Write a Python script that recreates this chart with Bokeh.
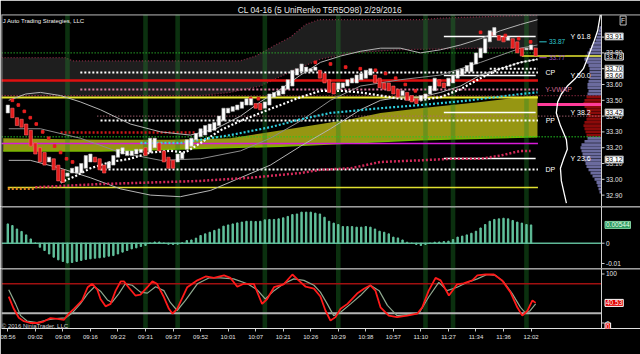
from bokeh.plotting import figure
from bokeh.models import Range1d, FixedTicker, Label, Span
from bokeh.layouts import column
from bokeh.embed import file_html
from bokeh.resources import INLINE
from bokeh.core.properties import value

FONT = "Liberation Sans"

# ---------------- data ----------------
title_text = "CL 04-16 (5 UniRenko T5R5O98)  2/29/2016"
time_labels = ["08:56", "09:02", "09:08", "09:16", "09:22", "09:31", "09:37", "09:52", "10:01", "10:07",
               "10:21", "10:26", "10:29", "10:38", "10:57", "11:10", "11:27", "11:34", "11:36", "12:02"]
time_label_bars = [0, 6, 12, 18, 24, 30, 36, 42, 48, 54, 60, 66, 72, 78, 84, 90, 96, 102, 108, 114]

opens = [33.42, 33.45, 33.39, 33.38, 33.35, 33.31, 33.23, 33.20, 33.17, 33.11,
         33.13, 33.09, 33.06, 33.02, 33.04, 33.04, 33.04, 33.07, 33.11, 33.14,
         33.13, 33.09, 33.07, 33.09, 33.14, 33.16, 33.15, 33.15, 33.16, 33.17,
         33.20, 33.17, 33.20, 33.23, 33.18, 33.14, 33.12, 33.11, 33.13, 33.19,
         33.21, 33.25, 33.27, 33.28, 33.30, 33.31, 33.34, 33.37, 33.42, 33.43,
         33.44, 33.45, 33.47, 33.47, 33.48, 33.48, 33.45, 33.47, 33.52, 33.53,
         33.54, 33.57, 33.59, 33.66, 33.68, 33.68, 33.68, 33.69, 33.69, 33.67,
         33.63, 33.61, 33.57, 33.58, 33.59, 33.61, 33.61, 33.63, 33.64, 33.66,
         33.66, 33.64, 33.61, 33.61, 33.59, 33.57, 33.53, 33.55, 33.53, 33.51,
         33.50, 33.51, 33.54, 33.56, 33.63, 33.61, 33.59, 33.61, 33.64, 33.66,
         33.68, 33.68, 33.73, 33.77, 33.80, 33.87, 33.91, 33.91, 33.90, 33.88,
         33.89, 33.87, 33.83, 33.82, 33.82, 33.83]
closes = [33.47, 33.39, 33.34, 33.33, 33.28, 33.21, 33.16, 33.11, 33.09, 33.14,
          33.06, 32.99, 32.98, 33.04, 33.07, 33.08, 33.10, 33.15, 33.16, 33.11,
          33.06, 33.04, 33.11, 33.15, 33.19, 33.20, 33.18, 33.18, 33.19, 33.19,
          33.15, 33.26, 33.26, 33.18, 33.11, 33.07, 33.07, 33.16, 33.17, 33.25,
          33.26, 33.29, 33.32, 33.34, 33.35, 33.36, 33.40, 33.45, 33.45, 33.46,
          33.47, 33.49, 33.51, 33.51, 33.45, 33.44, 33.49, 33.54, 33.55, 33.56,
          33.59, 33.63, 33.69, 33.70, 33.73, 33.71, 33.70, 33.71, 33.64, 33.61,
          33.55, 33.54, 33.61, 33.61, 33.63, 33.64, 33.66, 33.67, 33.69, 33.70,
          33.61, 33.58, 33.57, 33.56, 33.54, 33.52, 33.56, 33.50, 33.49, 33.48,
          33.53, 33.54, 33.59, 33.64, 33.59, 33.58, 33.64, 33.66, 33.69, 33.70,
          33.72, 33.74, 33.80, 33.83, 33.89, 33.94, 33.96, 33.88, 33.87, 33.90,
          33.83, 33.80, 33.78, 33.83, 33.85, 33.78]

hist = [0.0095, 0.0087, 0.0070, 0.0058, 0.0041, 0.0021, 0.0001, -0.0020, -0.0036, -0.0053,
        -0.0069, -0.0082, -0.0090, -0.0097, -0.0095, -0.0090, -0.0085, -0.0080, -0.0077, -0.0074,
        -0.0072, -0.0069, -0.0064, -0.0061, -0.0053, -0.0044, -0.0036, -0.0028, -0.0023, -0.0016,
        -0.0011, 0.0001, 0.0006, 0.0006, 0.0001, -0.0005, -0.0006, -0.0005, 0.0002, 0.0013,
        0.0016, 0.0025, 0.0038, 0.0046, 0.0054, 0.0063, 0.0070, 0.0084, 0.0090, 0.0095,
        0.0100, 0.0104, 0.0108, 0.0108, 0.0107, 0.0108, 0.0115, 0.0117, 0.0117, 0.0120,
        0.0125, 0.0132, 0.0141, 0.0144, 0.0153, 0.0153, 0.0153, 0.0148, 0.0144, 0.0128,
        0.0108, 0.0099, 0.0092, 0.0082, 0.0082, 0.0082, 0.0079, 0.0079, 0.0082, 0.0079,
        0.0070, 0.0059, 0.0054, 0.0046, 0.0030, 0.0026, 0.0016, 0.0005, 0.0000, -0.0006,
        -0.0011, -0.0006, 0.0000, 0.0005, 0.0006, 0.0008, 0.0010, 0.0018, 0.0030, 0.0035,
        0.0041, 0.0049, 0.0059, 0.0075, 0.0092, 0.0108, 0.0117, 0.0120, 0.0123, 0.0120,
        0.0112, 0.0104, 0.0099, 0.0092, 0.0090]
hist_last_text = "0.00544"
hist_ticks = [0, -0.01]
hist_tick_labels = ["0", "-0.01"]

stoch_k_x = [0.2, 1.3, 2.4, 3.5, 4.9, 6.4, 7.8, 9.3, 10.8, 12.2, 13.3, 14.4, 16.2, 17.4, 18.4,
             19.5, 20.2, 21.3, 22.4, 23.5, 24.6, 25.3, 26.4, 27.8, 28.9, 30.4, 31.5, 32.5, 34.0, 35.1,
             35.9, 36.9, 39.1, 41.3, 43.1, 44.9, 47.1, 48.5, 50.0, 51.4, 53.6, 55.4, 56.5, 58.0, 60.1,
             62.0, 63.0, 64.9, 66.7, 68.1, 69.2, 70.3, 71.4, 72.5, 74.0, 76.1, 77.6, 79.0, 80.1, 81.2,
             83.0, 84.8, 87.0, 89.2, 90.3, 91.7, 93.2, 94.3, 96.1, 97.9, 99.3, 101.2, 102.3, 104.1, 105.9,
             107.7, 109.5, 111.0, 112.1, 113.2, 114.3, 115.0]
stoch_k = [54, 29, 10.6, 3.7, 0, 0, 3, 10, 8.5, 6.5, 19, 29, 46, 73, 80,
           68, 49, 34, 39, 66, 85, 85, 72, 56, 58, 73, 85, 80, 53, 29,
           19, 29, 73, 87, 95, 92, 97, 92, 74, 80, 80, 39, 49, 73, 79,
           99, 90, 74, 70, 54, 25.5, 5, 12, 29, 39, 60, 70, 77, 66, 32,
           15, 12, 15, 19, 32, 66, 92, 87, 56, 79, 81, 87, 97, 99, 99,
           87, 63, 32, 15, 25, 46, 41]
stoch_d_x = [0.2, 1.7, 2.8, 4.2, 6.4, 8.6, 10.4, 12.6, 14.0, 15.8, 17.4, 18.9, 20.2, 21.7, 22.7,
             24.2, 25.6, 27.1, 28.9, 30.4, 32.2, 34.0, 35.4, 36.9, 38.7, 41.3, 43.8, 46.3, 49.2, 52.2,
             54.3, 56.1, 58.0, 60.1, 62.3, 64.5, 66.7, 68.1, 69.6, 71.0, 72.5, 74.7, 76.8, 79.0, 80.9,
             82.7, 84.8, 87.4, 89.6, 91.7, 93.9, 95.7, 97.9, 100.1, 102.3, 104.4, 106.3, 108.1, 109.9, 111.7,
             112.8, 113.8, 115.0]
stoch_d = [68, 39, 15, 4, 1, 6.5, 9, 10.6, 20, 39, 60, 74, 65, 47, 42,
           60, 80, 77, 63, 61, 74, 66, 42, 25.5, 46, 80, 92, 92, 90, 80,
           68, 49, 66, 80, 90, 87, 77, 63, 39, 15, 22, 39, 56, 77, 66,
           36, 15, 17, 20, 53, 83, 66, 73, 83, 90, 99, 97, 83, 60, 32,
           20, 25, 39]
stoch_last_text = "40.53"
stoch_ticks = [100, 0]
stoch_tick_labels = ["100", "0"]
stoch_levels = [80, 20]

signal_bars = [13, 30, 37, 56, 72, 91, 97, 113]

# channel (grey cloud) boundaries
gb_upper_x = [-2, 12.6, 14.1, 50.7, 54.0, 58.3, 61.6, 64.9, 67.7, 89.9, 94.3, 115.4]
gb_upper = [33.77, 33.77, 33.75, 33.75, 33.78, 33.85, 33.90, 33.98, 34.01, 34.01, 34.02, 34.04]
gb_lower_x = [-2, 42.0, 48.5, 55.0, 61.6, 68.1, 74.7, 85.5, 103.0, 115.4]
gb_lower = [33.53, 33.53, 33.55, 33.59, 33.68, 33.76, 33.80, 33.82, 33.83, 33.83]

# olive cloud
ol_top_x = [-1, 20.2, 35.4, 48.5, 57.2, 63.8, 74.7, 81.2, 89.9, 103.0, 111.7, 115.4]
ol_top = [33.26, 33.25, 33.25, 33.26, 33.30, 33.33, 33.38, 33.42, 33.45, 33.49, 33.52, 33.53]
ol_bot_x = [-1, 20.2, 35.4, 59.4, 74.7, 89.9, 103.0, 115.4]
ol_bot = [33.18, 33.18, 33.19, 33.21, 33.23, 33.25, 33.26, 33.27]

# bands / averages
bbU_x = [0.2, 3.9, 7.1, 11.5, 15.8, 20.2, 26.7, 33.3, 39.8, 45.3, 50.7, 55.0, 59.4, 63.8, 68.1,
         72.5, 76.8, 81.2, 85.5, 89.9, 94.3, 98.6, 103.0, 107.3, 111.7, 115.4]
bbU = [33.50, 33.54, 33.55, 33.53, 33.49, 33.44, 33.35, 33.30, 33.28, 33.32, 33.40, 33.49, 33.57, 33.66, 33.74,
       33.78, 33.81, 33.83, 33.83, 33.80, 33.82, 33.85, 33.89, 33.94, 33.98, 34.01]
bbL_x = [0.2, 4.9, 11.5, 18.0, 24.5, 31.1, 37.6, 44.2, 50.7, 57.2, 63.8, 70.3, 76.8, 81.2, 85.5,
         89.9, 94.3, 98.6, 103.0, 107.3, 111.7, 115.4]
bbL = [33.12, 33.12, 33.07, 33.01, 32.94, 32.90, 32.89, 32.93, 33.01, 33.09, 33.21, 33.32, 33.44, 33.50, 33.52,
       33.52, 33.55, 33.59, 33.66, 33.70, 33.74, 33.76]
bbM_x = [0.2, 7.1, 15.8, 24.5, 33.3, 42.0, 50.7, 57.2, 63.8, 70.3, 76.8, 85.5, 94.3, 103.0, 111.7, 115.4]
bbM = [33.32, 33.32, 33.26, 33.17, 33.12, 33.13, 33.18, 33.26, 33.37, 33.50, 33.59, 33.63, 33.66, 33.74, 33.83, 33.85]
ema_x = [11.5, 14.7, 18.0, 22.4, 26.7, 31.1, 35.4, 38.7, 42.0, 46.3, 50.7, 55.0, 59.4, 63.8, 68.1,
         72.5, 76.8, 81.2, 85.5, 89.9, 94.3, 98.6, 103.0, 107.3, 111.7, 115.4]
ema = [32.98, 33.02, 33.07, 33.11, 33.13, 33.17, 33.18, 33.17, 33.23, 33.31, 33.37, 33.42, 33.47, 33.52, 33.56,
       33.56, 33.55, 33.53, 33.51, 33.50, 33.52, 33.57, 33.64, 33.70, 33.74, 33.76]
cyan_x = [28.9, 37.6, 48.5, 57.2, 63.8, 70.3, 81.2, 89.9, 100.8, 111.7, 115.4]
cyan = [33.23, 33.23, 33.28, 33.33, 33.38, 33.42, 33.45, 33.47, 33.50, 33.54, 33.55]
crim_x = [6.0, 20.2, 31.1, 42.0, 52.9, 63.8, 68.1, 74.7, 81.2, 89.9, 96.5, 103.0, 107.3, 111.7, 113.9]
crim = [32.95, 32.97, 32.98, 32.99, 33.01, 33.04, 33.06, 33.07, 33.11, 33.12, 33.13, 33.13, 33.15, 33.18, 33.18]
orange_x = [0, 6.0]
orange = [32.94, 32.94]
psar_x = [1.0, 2.3, 3.6, 4.9, 6.2, 7.6, 8.9, 10.2, 11.5, 12.8, 14.1, 52.9, 54.6,
          67.0, 70.3, 73.6, 76.8, 80.1, 82.3, 84.5, 86.6, 88.8, 91.0,
          103.0, 105.6, 108.4, 111.3, 113.9]
psar = [33.50, 33.47, 33.43, 33.39, 33.35, 33.30, 33.26, 33.21, 33.17, 33.13, 33.11, 33.51, 33.51,
        33.74, 33.73, 33.71, 33.70, 33.69, 33.67, 33.64, 33.60, 33.56, 33.53,
        33.93, 33.92, 33.91, 33.89, 33.87]

# horizontal levels
lvl_green_hi = 33.80
lvl_cp = 33.676
lvl_cp2 = 33.70
lvl_red = 33.625
lvl_vwap = 33.568
lvl_darkred = 33.53
lvl_yellow = 33.518
lvl_last = 33.78
lvl_pinkdot = 33.40
lvl_pp = 33.372
lvl_green_lo = 33.27
lvl_magenta = 33.227
lvl_dp = 33.062
lvl_yellow_lo = 32.948
lvl_reddot = 33.296
lvl_fibs = [33.904, 33.657, 33.423, 33.132]
lvl_fib_names = ["Y 61.8", "Y 50.0", "Y 38.2", "Y 23.6"]
lvl_poc = 33.473
lvl_cyan_mark = 33.87
lvl_purple_mark = 33.77

# volume profile
profile_prices = [33.96, 33.94, 33.92, 33.90, 33.88, 33.86, 33.84, 33.82, 33.80, 33.78, 33.76, 33.74,
                  33.72, 33.70, 33.68, 33.66, 33.64, 33.62, 33.60, 33.58, 33.56, 33.54, 33.52,
                  33.50, 33.48, 33.46, 33.44, 33.42, 33.40, 33.38, 33.36, 33.34, 33.32, 33.30, 33.28,
                  33.26, 33.24, 33.22, 33.20, 33.18, 33.16, 33.14, 33.12, 33.10, 33.08, 33.06, 33.04,
                  33.02, 33.00, 32.98, 32.96, 32.94, 32.92]
profile_vol = [2, 3, 4, 5, 6, 8, 10, 12, 14, 16, 17, 15, 13, 12, 12, 11, 12, 13, 14, 14, 13, 14, 15,
               17, 18, 17, 15, 14, 14, 15, 17, 18, 17, 16, 15,
               14, 17, 20, 21, 20, 19, 18, 17, 16, 15, 13, 11, 9, 7, 5, 4, 3, 2]
value_area = (33.28, 33.52)
pc_x = [129.1, 128.5, 127.8, 126.5, 125.4, 123.7, 121.9, 120.6, 119.8, 119.5, 120.4, 121.7, 121.9, 121.1,
        120.4, 120.6, 121.3, 121.7]
pc_y = [34.04, 33.94, 33.88, 33.78, 33.70, 33.64, 33.59, 33.54, 33.49, 33.42, 33.34, 33.25, 33.19, 33.13,
        33.07, 32.99, 32.90, 32.85]

price_ticks = [33.90, 33.80, 33.70, 33.60, 33.50, 33.40, 33.30, 33.20, 33.10, 33.00, 32.90]
axis_box_prices = [33.904, 33.777, 33.70, 33.66, 33.423, 33.125]
axis_box_text = ["33.91", "33.78", "33.70", "33.66", "33.42", "33.12"]

# ---------------- layout ----------------
BAR_PX = 4.59
X0 = -1.373
XF = X0 + 639 / BAR_PX          # frame covers the whole width right of x=1
AX = X0 + 600 / BAR_PX          # price-scale line (x = 601 px)
XR = Range1d(X0, XF)
n = len(opens)
tf = value(FONT)


def base_fig(height, yr, top=0, bottom=0, xaxis=False):
    p = figure(width=640, height=height, x_range=XR, y_range=yr,
               output_backend="svg", toolbar_location=None,
               x_axis_location="below" if xaxis else None, y_axis_location=None,
               min_border_left=1, min_border_right=0, min_border_top=top, min_border_bottom=bottom,
               background_fill_color="black", border_fill_color="black",
               outline_line_color=None)
    p.grid.visible = False
    p.add_layout(Span(location=X0 + 0.3 / BAR_PX, dimension="height", line_color="#bfbfbf", line_width=1))
    p.add_layout(Span(location=AX, dimension="height", line_color="#cfcfcf", line_width=1))
    return p


def scale_labels(p, ticks, labels):
    p.segment(x0=[AX] * len(ticks), x1=[AX + 3 / BAR_PX] * len(ticks), y0=ticks, y1=ticks,
              line_color="#cfcfcf", line_width=1)
    p.text(x=[AX + 4.5 / BAR_PX] * len(ticks), y=ticks, text=labels, text_font=tf,
           text_font_size="6.5px", text_color="#e6e6e6", text_align="left", text_baseline="middle")


def strips(p, lo, hi):
    p.quad(left=[b - 0.5 for b in signal_bars], right=[b + 0.5 for b in signal_bars],
           bottom=lo, top=hi, fill_color="#1f8a2a", fill_alpha=0.35, line_color=None)


def hline(p, y, x0, x1, color, width=1.0, dash="solid"):
    p.line([x0, x1], [y, y], line_color=color, line_width=width, line_dash=dash)


def box(p, y, text, bg, fg, border, x=None, size="6.5px"):
    p.add_layout(Label(x=AX + 3.5 / BAR_PX if x is None else x, y=y, text=text, text_font=FONT,
                       text_font_size=size, text_color=fg, background_fill_color=bg,
                       border_line_color=border, text_baseline="middle", text_align="left", padding=1))


# ---------- price panel ----------
PY0, PY1 = 32.828, 34.043
p1 = base_fig(206, Range1d(PY0, PY1), top=14)
p1.title.text = title_text
p1.title.align = "center"
p1.title.text_font = FONT
p1.title.text_font_size = "8.4px"
p1.title.text_font_style = "normal"
p1.title.text_color = "#e8e8e8"
p1.title.standoff = 0
p1.add_layout(Span(location=PY1 - 0.4 * (PY1 - PY0) / 192, dimension="width", line_color="#cfcfcf", line_width=1))

p1.patch(gb_upper_x + gb_lower_x[::-1], gb_upper + gb_lower[::-1], fill_color="#1e1e1e", line_color=None)
p1.line(gb_upper_x, gb_upper, line_color="#8a2a45", line_width=1.2, line_dash="1 2")
p1.line(gb_lower_x, gb_lower, line_color="#8a2a45", line_width=1.2, line_dash="1 2")

p1.patch(ol_top_x + ol_bot_x[::-1], ol_top + ol_bot[::-1], fill_color="#969612", line_color=None)
p1.line(ol_bot_x, ol_bot, line_color="#78b800", line_width=1.5)
strips(p1, 32.0, 35.0)

# volume profile
pv_col = ["#8b0a0a" if value_area[0] <= pr <= value_area[1] else "#6b6b9e" for pr in profile_prices]
p1.hbar(y=profile_prices, left=[AX - v / BAR_PX for v in profile_vol], right=AX, height=0.018,
        fill_color=pv_col, line_color=None)

XE = 115.5
hline(p1, lvl_green_hi, -2, XE, "#2ec02e", 1.2, "1 2")
hline(p1, lvl_cp, 15.8, XE, "#ffffff", 2, "2 2")
hline(p1, lvl_cp2, 105, XE, "#ffffff", 2, "2 2")
hline(p1, lvl_red, -2, XE, "#e01010", 2.5)
hline(p1, lvl_vwap, 15.8, XE, "#e07ca0", 2, "2 2")
hline(p1, lvl_darkred, -2, AX, "#9a2f4a", 1.2, "1 2")
hline(p1, lvl_yellow, -2, XE, "#e8e830", 2)
hline(p1, lvl_last, 112, AX, "#e8e830", 1.5)
hline(p1, lvl_pinkdot, 19.5, AX, "#b06878", 1.2, "1 2")
hline(p1, lvl_pp, 20.2, XE, "#ffffff", 2, "2 2")
hline(p1, lvl_green_lo, -2, AX, "#22c822", 1.5, "1 2")
hline(p1, lvl_magenta, -2, XE, "#d81ad8", 1.5)
hline(p1, lvl_dp, 20.2, XE, "#ffffff", 2, "2 2")
hline(p1, lvl_yellow_lo, 0, XE, "#e0e030", 1.5)
hline(p1, lvl_reddot, 11.5, 41, "#d01818", 2.5, "2 2")
for fy in lvl_fibs:
    hline(p1, fy, 95, 115, "#ffffff", 1.5)
hline(p1, lvl_poc, 115.4, AX, "#ff3c9a", 3)
hline(p1, lvl_cyan_mark, 115.8, 117.4, "#30c8d0", 1)
hline(p1, lvl_purple_mark, 115.8, 117.4, "#9040b0", 1)

p1.line(bbU_x, bbU, line_color="#b4b4b4", line_width=1)
p1.line(bbL_x, bbL, line_color="#b4b4b4", line_width=1)
p1.line(bbM_x, bbM, line_color="#8c8c8c", line_width=1)
p1.line(ema_x, ema, line_color="#ffffff", line_width=2.2, line_dash="2 2")
p1.line(cyan_x, cyan, line_color="#30d0e0", line_width=2.2, line_dash="2 2")
p1.line(crim_x, crim, line_color="#d42a5a", line_width=2.5, line_dash="2 2")
p1.line(orange_x, orange, line_color="#e08020", line_width=2.5, line_dash="2 2")
p1.scatter(psar_x, psar, marker="square", size=2.6, color="#e82020")
p1.line(pc_x, pc_y, line_color="#ffffff", line_width=1.3)

# candles
up = [i for i in range(n) if closes[i] >= opens[i]]
dn = [i for i in range(n) if closes[i] < opens[i]]
p1.quad(left=[i - 0.36 for i in up], right=[i + 0.36 for i in up],
        bottom=[opens[i] for i in up], top=[closes[i] for i in up],
        fill_color="#ffffff", line_color="#bdbdbd", line_width=0.6)
p1.quad(left=[i - 0.36 for i in dn], right=[i + 0.36 for i in dn],
        bottom=[closes[i] for i in dn], top=[opens[i] for i in dn],
        fill_color="#e41b1b", line_color="#ff6a6a", line_width=0.6)

# texts in the price panel
p1.text(x=[124.8] * 4, y=lvl_fibs, text=lvl_fib_names, text_font=tf, text_font_size="7px",
        text_color="#ffffff", text_align="center", text_baseline="middle")
p1.text(x=[118.2, 118.2, 118.2], y=[lvl_cp, lvl_pp, lvl_dp], text=["CP", "PP", "DP"], text_font=tf,
        text_font_size="7px", text_color="#ffffff", text_align="center", text_baseline="middle")
p1.text(x=[120.0], y=[lvl_vwap], text=["Y-VWAP"], text_font=tf, text_font_size="7px",
        text_color="#d06a90", text_align="center", text_baseline="middle")
p1.text(x=[117.9], y=[lvl_cyan_mark], text=["33.87"], text_font=tf, text_font_size="6.5px",
        text_color="#30c8d0", text_align="left", text_baseline="middle")
p1.text(x=[117.9], y=[lvl_purple_mark], text=["33.77"], text_font=tf, text_font_size="6.5px",
        text_color="#9a50c0", text_align="left", text_baseline="middle")
p1.text(x=[-1.1], y=[34.0], text=["J Auto Trading Strategies, LLC"], text_font=tf, text_font_size="6px",
        text_color="#f0f0f0", text_align="left", text_baseline="middle")

scale_labels(p1, price_ticks, ["%.2f" % t for t in price_ticks])
for pr, t in zip(axis_box_prices, axis_box_text):
    if t == "33.78":
        box(p1, pr, t, "#000000", "#ffffff", "#ffffff")
    else:
        box(p1, pr, t, "#ffffff", "#000000", "#9a9a9a")
box(p1, 34.005, "F", "#000000", "#e0e0e0", "#c0c0c0", x=133.4, size="6.5px")

# ---------- histogram panel ----------
HY0, HY1 = -0.01246, 0.01808
p2 = base_fig(62, Range1d(HY0, HY1))
p2.add_layout(Span(location=HY1 - 0.4 * (HY1 - HY0) / 62, dimension="width", line_color="#e0e0e0", line_width=1))
strips(p2, -1, 1)
p2.segment(x0=[X0], x1=[AX], y0=[0], y1=[0], line_color="#5fb897", line_width=1.5)
p2.vbar(x=list(range(len(hist))), top=hist, bottom=0, width=0.3, color="#62c29d")
scale_labels(p2, hist_ticks, hist_tick_labels)
box(p2, hist[-1], hist_last_text, "#2e9a62", "#e8ffe8", "#80d0a0")

# ---------- stochastic panel ----------
SY0, SY1 = -11.22, 111.2
p3 = base_fig(86, Range1d(SY0, SY1), bottom=26, xaxis=True)
p3.add_layout(Span(location=SY1 - 0.4 * (SY1 - SY0) / 60, dimension="width", line_color="#e0e0e0", line_width=1))
xa = p3.xaxis[0]
xa.ticker = FixedTicker(ticks=time_label_bars)
xa.major_label_overrides = {b: t for b, t in zip(time_label_bars, time_labels)}
xa.major_label_text_font = FONT
xa.major_label_text_font_size = "6px"
xa.major_label_text_color = "#e0e0e0"
xa.axis_line_color = "#e0e0e0"
xa.major_tick_line_color = "#cfcfcf"
xa.major_tick_out = 3
xa.major_tick_in = 0
xa.minor_tick_line_color = None
xa.major_label_standoff = 2
strips(p3, -20, 120)
p3.segment(x0=[X0, X0], x1=[AX, AX], y0=stoch_levels, y1=stoch_levels,
           line_color=["#a01010", "#b4b4b4"], line_width=[1.5, 2])
p3.line(stoch_d_x, stoch_d, line_color="#8fa88f", line_width=1.2)
p3.line(stoch_k_x, stoch_k, line_color="#ff1a1a", line_width=1.8)
p3.text(x=[-1.3], y=[-7.0], text=["\u00a9 2016 NinjaTrader, LLC"], text_font=tf, text_font_size="6px",
        text_color="#d0d0d0", text_align="left", text_baseline="middle")
scale_labels(p3, stoch_ticks, stoch_tick_labels)
box(p3, stoch_k[-1], stoch_last_text, "#e00000", "#ffffff", "#ffffff")
box(p3, -7.0, "0", "#e00000", "#ffffff", "#ffffff")

layout = column(p1, p2, p3, spacing=0)
open("out.html", "w").write(file_html(layout, INLINE))
